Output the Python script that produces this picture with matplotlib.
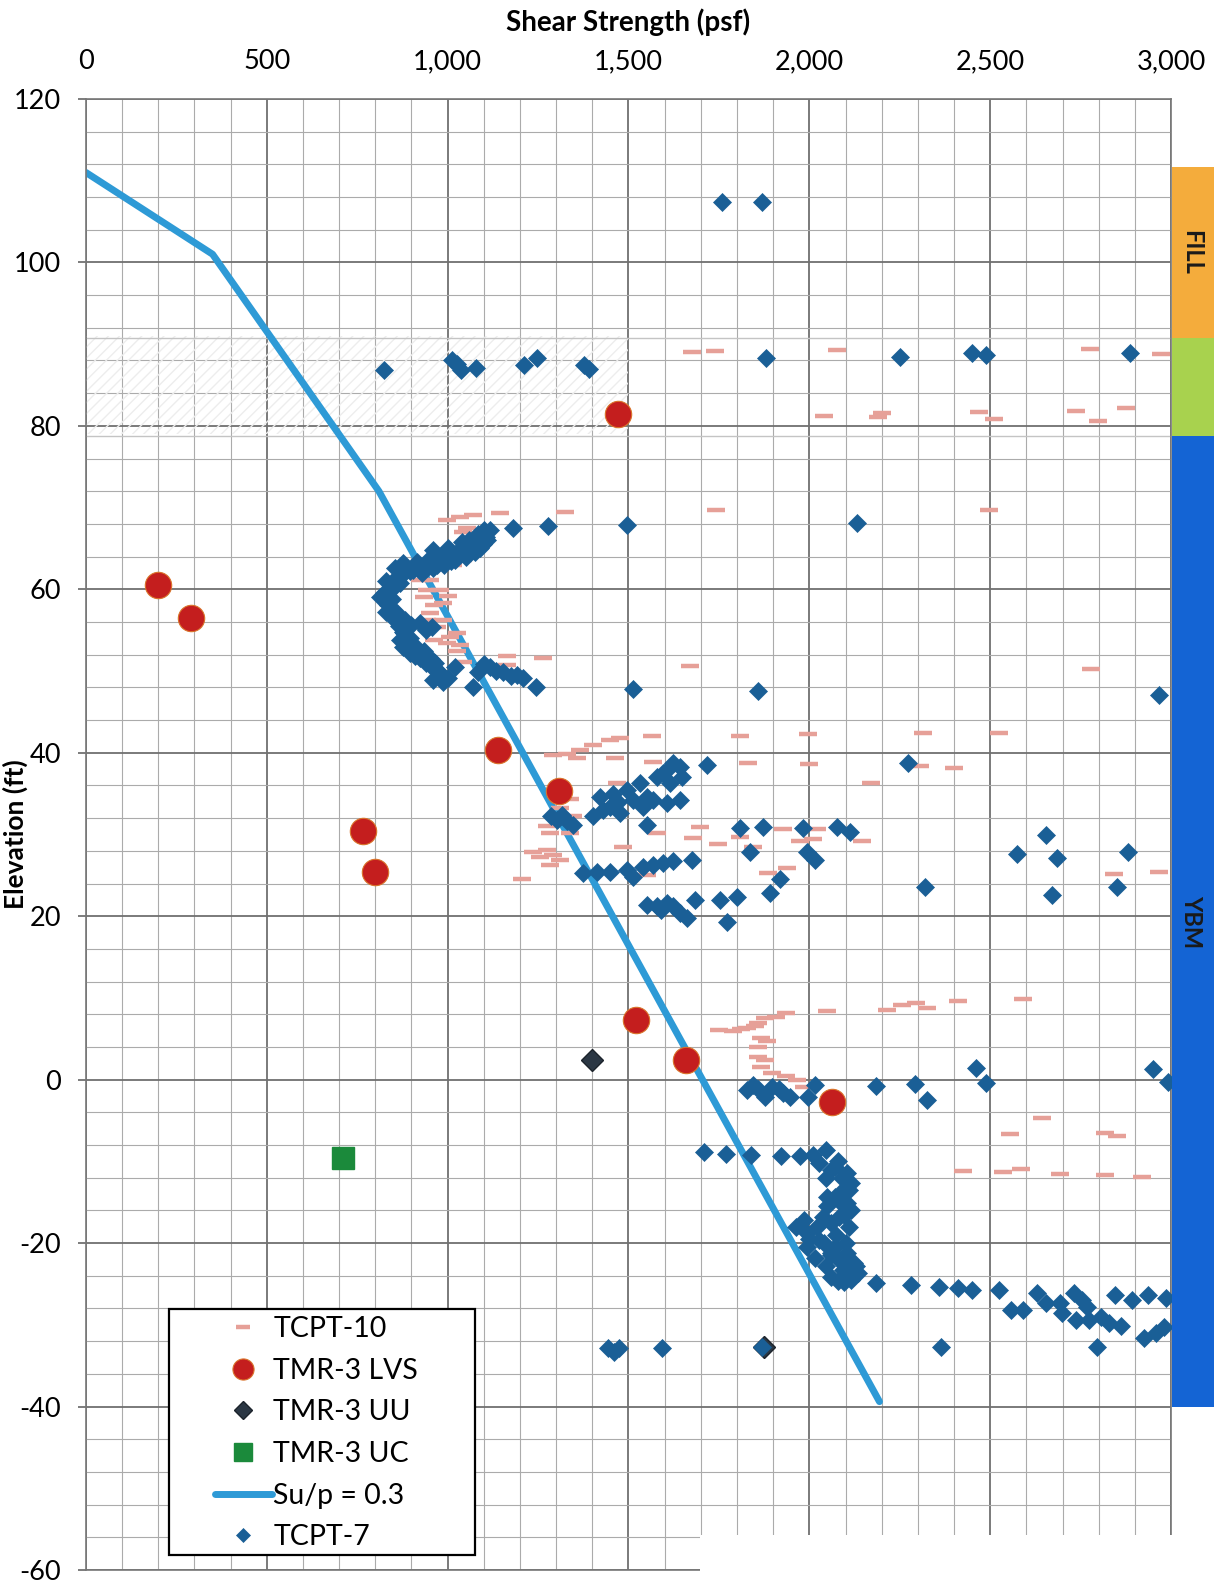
import matplotlib
matplotlib.use("Agg")
import matplotlib.pyplot as plt
from matplotlib.ticker import MultipleLocator, FuncFormatter
from matplotlib.patches import Rectangle

plt.rcParams['font.family'] = ['Lato', 'DejaVu Sans']
plt.rcParams['axes.unicode_minus'] = False

# --- TCPT-7 (blue diamonds): shear strength psf, elevation ft
tcpt7_x = [1758, 1869,
           824, 1012, 1025, 1037, 1078, 1210, 1247, 1378, 1390, 1880, 2250, 2450, 2488, 2886,
           1180, 1277, 1495, 2132,
           1117, 1105, 1098, 1080, 1062, 1050, 1026, 1010, 987, 970, 951, 935, 915, 895, 877,
           854, 860, 868, 850, 840, 825, 813, 835, 850, 860, 882, 900, 923, 940, 956, 876, 868,
           885, 877, 896, 910, 923, 940, 951, 970, 959, 987, 1020, 1070, 1084, 1100, 1117, 1135,
           1152, 1175, 1192, 1208, 1244, 1512, 1859, 2967,
           880, 905, 930, 960, 990, 1020, 1050, 1075, 1090, 1110, 1100, 1085, 1060, 1040, 1000,
           960, 830, 845, 830, 848, 865, 880, 895, 900, 915, 935, 955, 965, 985, 975, 1000,
           1287, 1301, 1315, 1329, 1347, 1403, 1421, 1449, 1457, 1476, 1496, 1512, 1532, 1540,
           1551, 1569, 1578, 1595, 1606, 1623, 1642, 1647, 1615, 1606, 1642, 1716, 1551, 1470, 1430,
           1375, 1412, 1449, 1496, 1512, 1540, 1569, 1595, 1623, 1675,
           1551, 1578, 1590, 1606, 1623, 1642, 1661, 1684, 1753, 1800, 1772,
           1809, 1872, 1836, 1891, 1919, 1982, 1993, 2015, 2076, 2112,
           2273, 2320, 2574, 2654, 2684, 2670, 2881, 2850,
           1828, 1845, 1858, 1877, 1897, 1915, 1927, 1947, 1996, 2016, 2184, 2292, 2326, 2461,
           2488, 2950, 2992,
           1708, 1769, 1838, 1921, 1974, 2010, 2046,
           2027, 2071, 2104, 2115, 2093, 2071, 2104, 2115, 2082, 2038, 1985, 1963, 1994, 2027,
           1994, 2071, 2104, 2123, 2093, 2060, 2115, 2134, 2049, 2060,
           2060, 2090, 2110, 2085, 2095, 2060, 2020, 2000, 2040, 2060, 2080, 2100, 2120, 2080,
           2130, 2045, 2080, 2110, 2050, 2075, 2100, 2015, 2045, 2095,
           2184, 2281, 2358, 2411, 2450, 2525, 2557, 2591, 2629, 2655, 2693, 2699, 2731, 2753,
           2768, 2737, 2773, 2806, 2828, 2861, 2795, 2845, 2892, 2936, 2986, 2925, 2958, 2980,
           2364, 1594, 1443, 1475, 1460, 1870]
tcpt7_y = [107.4, 107.4,
           86.8, 88.1, 87.6, 86.8, 87.1, 87.5, 88.3, 87.4, 87.0, 88.3, 88.4, 88.9, 88.7, 88.9,
           67.5, 67.7, 67.9, 68.1,
           67.3, 66.4, 65.6, 66.2, 65.1, 64.0, 64.6, 63.5, 64.2, 63.0, 63.8, 62.7, 63.3, 62.2, 63.2,
           62.6, 61.5, 60.8, 60.2, 59.9, 59.5, 59.1, 58.1, 57.5, 57.1, 56.2, 55.6, 55.9, 55.0, 55.4,
           54.8, 53.8, 53.5, 53.0, 52.2, 51.8, 51.6, 51.0, 50.7, 50.1, 48.9, 48.7, 50.5, 48.1, 49.9,
           50.8, 50.5, 50.0, 49.9, 49.4, 49.5, 49.1, 48.0, 47.8, 47.6, 47.1,
           62.0, 62.4, 62.0, 62.6, 63.0, 63.6, 64.4, 64.6, 65.0, 66.0, 67.2, 66.8, 66.0, 65.8, 65.0,
           64.8, 61.0, 58.8, 57.2, 56.5, 55.5, 54.6, 54.0, 53.0, 52.8, 52.5, 51.5, 51.0, 49.5, 49.4,
           49.2,
           32.2, 31.8, 32.4, 31.6, 31.2, 32.2, 34.6, 33.4, 35.0, 32.6, 35.4, 34.2, 36.3, 33.4,
           34.6, 34.2, 37.0, 37.5, 37.9, 38.7, 38.3, 37.0, 36.3, 33.8, 34.2, 38.5, 31.2, 34.0, 33.0,
           25.3, 25.4, 25.4, 25.6, 24.8, 26.0, 26.3, 26.5, 26.7, 26.9,
           21.4, 21.2, 20.8, 21.6, 21.2, 20.4, 19.8, 22.0, 22.0, 22.4, 19.3,
           30.8, 30.9, 27.9, 22.8, 24.6, 30.8, 27.9, 26.9, 30.9, 30.3,
           38.7, 23.6, 27.6, 29.9, 27.1, 22.6, 27.9, 23.6,
           -1.3, -0.7, -1.1, -2.1, -0.9, -1.2, -1.6, -2.1, -2.1, -0.7, -0.8, -0.5, -2.5, 1.4,
           -0.4, 1.3, -0.3,
           -8.9, -9.1, -9.2, -9.4, -9.4, -9.2, -8.6,
           -10.2, -10.7, -11.4, -12.7, -13.5, -14.4, -15.1, -16.0, -16.8, -16.8, -17.2, -18.0,
           -18.8, -19.6, -20.5, -20.5, -21.2, -22.4, -23.3, -24.1, -24.5, -23.7, -14.4, -21.2,
           -11.0, -12.0, -13.5, -15.0, -16.5, -17.5, -18.0, -19.5, -20.0, -21.5, -22.0, -23.0,
           -24.2, -24.6, -22.8, -12.0, -10.0, -18.0, -15.5, -19.0, -20.0, -21.8, -22.8, -24.8,
           -24.9, -25.1, -25.4, -25.5, -25.7, -25.7, -28.2, -28.2, -26.1, -27.3, -27.3, -28.6,
           -26.1, -26.9, -27.8, -29.4, -29.4, -29.0, -29.8, -30.2, -32.7, -26.3, -26.9, -26.3,
           -26.7, -31.6, -31.0, -30.3,
           -32.7, -32.8, -32.8, -32.8, -33.3, -32.7]

# --- TCPT-10 (pink dashes)
tcpt10_x = [1675, 1739, 2076, 2776, 2972, 2040, 2191, 2202, 2468, 2510, 2737, 2798, 2875,
            998, 1034, 1070, 1053, 1042, 1145, 1324, 1741, 2498,
            1042, 1015, 979, 943, 951, 979, 934, 962, 951, 987, 1026, 998, 962, 1026, 1042,
            1164, 1264, 1164, 943, 943, 923, 970, 1006, 1034, 987, 1001, 1669, 2780,
            1291, 1329, 1366, 1402, 1449, 1476, 1357, 1564, 1463, 1567, 1807, 1996, 1831, 1999,
            2170, 1469, 1338, 1310, 1347, 1274, 1283, 1338, 1578, 1697, 1679, 1748, 1807, 1926,
            2020, 1974, 2010, 2145, 1844, 1485,
            1236, 1274, 1291, 1310, 1283, 1255, 1205, 1886, 1938, 1551,
            2314, 2524, 2400, 2305, 2842, 2966,
            1749, 1789, 1828, 1858, 1877, 1908, 1936, 1866, 1858, 1858, 1866, 1897, 1936, 1966,
            1985, 1883, 1877, 1810, 1850,
            2049, 2215, 2257, 2295, 2325, 2411, 2591,
            2643, 2554, 2818, 2851, 2424, 2535, 2585, 2693, 2818, 2919]
tcpt10_y = [89.0, 89.2, 89.3, 89.4, 88.8, 81.2, 81.1, 81.6, 81.7, 80.8, 81.8, 80.6, 82.2,
            68.5, 68.9, 69.1, 67.5, 67.0, 69.3, 69.5, 69.7, 69.7,
            63.6, 63.0, 62.6, 62.0, 61.1, 59.9, 59.1, 58.1, 57.1, 56.2, 54.6, 53.4, 53.8, 52.5,
            51.1, 51.8, 51.6, 50.7, 56.2, 59.9, 61.1, 55.4, 54.2, 53.2, 58.3, 59.2, 50.6, 50.2,
            39.7, 39.9, 40.3, 40.9, 41.5, 41.8, 39.4, 42.0, 39.3, 38.9, 42.0, 42.3, 38.7, 38.6,
            36.3, 36.3, 34.4, 33.3, 32.3, 31.0, 30.2, 30.2, 30.2, 30.9, 29.6, 28.8, 29.7, 30.7,
            30.7, 29.2, 29.4, 29.2, 28.5, 28.5,
            27.9, 28.1, 27.5, 26.9, 26.3, 27.2, 24.6, 25.3, 25.9, 25.0,
            42.4, 42.4, 38.1, 38.4, 25.2, 25.4,
            6.1, 6.0, 6.3, 6.9, 7.5, 7.7, 8.1, 5.1, 4.0, 2.8, 1.6, 0.8, 0.4, 0.0,
            -0.9, 4.7, 2.4, 6.2, 6.6,
            8.4, 8.5, 9.1, 9.4, 8.8, 9.6, 9.9,
            -4.7, -6.6, -6.5, -6.9, -11.2, -11.3, -10.9, -11.5, -11.7, -11.9]

# --- TMR-3 lab / vane tests
lvs_x = [1470, 200, 290, 1140, 1308, 765, 798, 1520, 1658, 2062]
lvs_y = [81.5, 60.5, 56.5, 40.3, 35.3, 30.4, 25.4, 7.3, 2.4, -2.7]
uu_x = [1398, 1874]
uu_y = [2.4, -32.7]
uc_x = [712]
uc_y = [-9.6]

# --- Su/p = 0.3 profile
sup_x = [0, 350, 810, 2194]
sup_y = [111.0, 101.0, 72.0, -39.4]

# --- stratigraphy column on the right
layer_names = ['FILL', '', 'YBM']
layer_tops = [111.7, 90.8, 78.8]
layer_bottoms = [90.8, 78.8, -40.0]
layer_colors = ['#f4ac3c', '#a8d24e', '#1464d4']

fig = plt.figure(figsize=(12.14, 15.83), dpi=100)
ax = fig.add_axes([0.0708, 0.0082, 0.8938, 0.9293])

ax.set_xlim(0, 3000)
ax.set_ylim(-60, 120)
ax.xaxis.set_major_locator(MultipleLocator(500))
ax.xaxis.set_minor_locator(MultipleLocator(100))
ax.yaxis.set_major_locator(MultipleLocator(20))
ax.yaxis.set_minor_locator(MultipleLocator(4))
ax.xaxis.set_major_formatter(FuncFormatter(lambda v, p: '{:,.0f}'.format(v)))
ax.xaxis.tick_top()
ax.xaxis.set_label_position('top')
ax.tick_params(axis='x', which='both', length=0, pad=18, labelsize=19.5)
ax.tick_params(axis='y', which='major', length=6, width=1.2, color='#666666',
               pad=12, labelsize=19.5)
ax.tick_params(axis='y', which='minor', length=0)
ax.grid(which='major', color='#707070', linewidth=1.3)
ax.grid(which='minor', color='#ababab', linewidth=0.8)
ax.set_axisbelow(True)
for s in ax.spines.values():
    s.set_color('#777777')
    s.set_linewidth(1.2)

# faint pencil shading / layer lines in the fill zone
ax.fill_between([0, 1500], 79, 91, facecolor='none', edgecolor='#ededed',
                hatch='///', linewidth=0, zorder=1)
for t in layer_tops[1:]:
    ax.axhline(t, color='#c4c4c4', linewidth=1.0, zorder=1)

ax.plot(sup_x, sup_y, color='#2e9ad6', linewidth=5, solid_capstyle='round',
        zorder=2, label='Su/p = 0.3')
ax.plot(tcpt10_x, tcpt10_y, linestyle='none', marker='_', markersize=13,
        markeredgewidth=3.2, color='#e6a098', zorder=3, label='TCPT-10')
ax.plot(lvs_x, lvs_y, linestyle='none', marker='o', markersize=19,
        markerfacecolor='#c41e1e', markeredgecolor='#d9732a', markeredgewidth=0.8,
        zorder=4, label='TMR-3 LVS')
ax.plot(uu_x, uu_y, linestyle='none', marker='D', markersize=11,
        markerfacecolor='#2b3744', markeredgecolor='#1c232b', zorder=4, label='TMR-3 UU')
ax.plot(uc_x, uc_y, linestyle='none', marker='s', markersize=16,
        color='#1b8a3b', zorder=4, label='TMR-3 UC')
ax.plot(tcpt7_x, tcpt7_y, linestyle='none', marker='D', markersize=9,
        markerfacecolor='#1a5f96', markeredgecolor='#1a5f96', markeredgewidth=0.5,
        zorder=5, label='TCPT-7')

for name, top, bot, col in zip(layer_names, layer_tops, layer_bottoms, layer_colors):
    ax.add_patch(Rectangle((3003, bot), 300, top - bot, facecolor=col,
                           edgecolor='none', clip_on=False, zorder=6))
    if name:
        ax.text(3058, (top + bot) / 2, name, rotation=270, ha='center', va='center',
                fontsize=17, fontweight='bold', color='#1a1a1a', clip_on=False, zorder=7)

ax.set_xlabel('Shear Strength (psf)', fontsize=20, fontweight='bold')
ax.xaxis.label.set_va('center')
ax.xaxis.set_label_coords(0.5, 1.0522)
ax.set_ylabel('Elevation (ft)', fontsize=19, fontweight='bold')
ax.yaxis.set_label_coords(-0.0535, 0.5)

# legend: frame drawn separately so it can be wider than its contents
ax.add_patch(Rectangle((0.0765, 0.0102), 0.282, 0.1672, transform=ax.transAxes,
                       facecolor='white', edgecolor='black', linewidth=1.6, zorder=8))
h = {l.get_label(): l for l in ax.get_lines()}
order = ['TCPT-10', 'TMR-3 LVS', 'TMR-3 UU', 'TMR-3 UC', 'Su/p = 0.3', 'TCPT-7']
leg = ax.legend([h[k] for k in order], order, loc='upper left',
                bbox_to_anchor=(0.1189, 0.1727), fontsize=20.5, frameon=False,
                borderpad=0, labelspacing=0.55, handlelength=2.0, handletextpad=0.05,
                borderaxespad=0, markerscale=0.8)
leg.set_zorder(9)

# scan cut-off at lower right
fig.patches.append(Rectangle((700 / 1214, 0), 1, 48 / 1583, transform=fig.transFigure,
                             facecolor='white', edgecolor='none', zorder=20))

fig.savefig('out.png', dpi=100)
